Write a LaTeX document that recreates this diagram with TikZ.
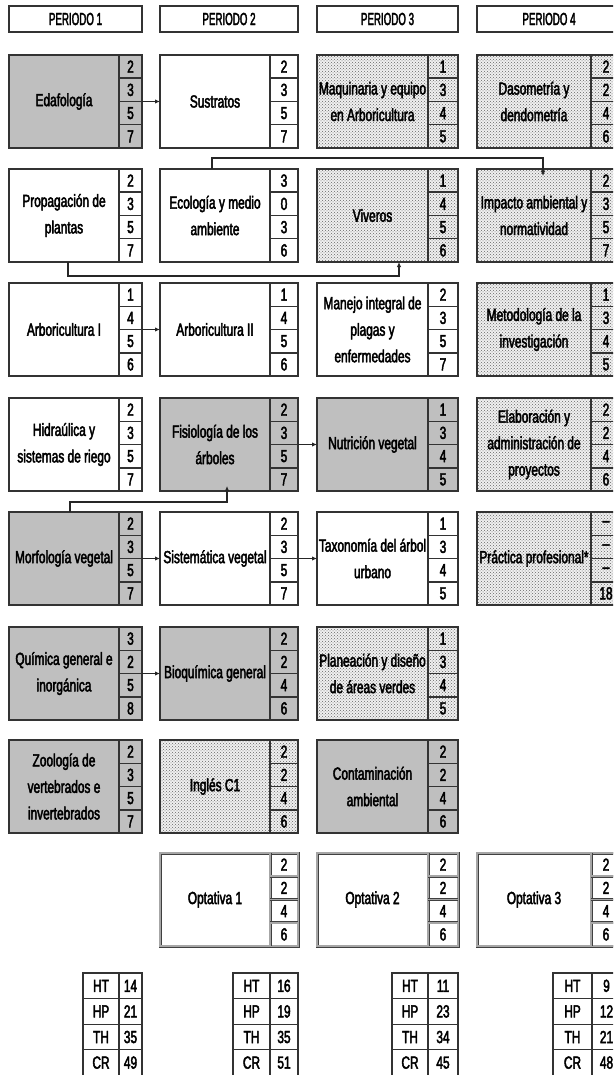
\documentclass[tikz,border=0pt]{standalone}
\usepackage{fontspec}
\setmainfont[FakeStretch=0.68,FakeBold=2.5]{Liberation Sans}
\usetikzlibrary{arrows.meta,patterns}
\tikzset{
  every node/.style={font=\fontsize{17.5}{26.5}\selectfont, inner sep=0pt, outer sep=0pt},
  cline/.style={draw=black!80, line width=1.5pt},
  whitebox/.style={cline, fill=white},
  graybox/.style={cline, fill=black!25},
  dotbox/.style={cline, preaction={fill=black!6}, pattern=crosshatch dots, pattern color=black!60},
  optbox/.style={draw=black!75, double=black!35, double distance=1.8pt, line width=0.6pt, fill=white},
  whitebox-line/.style={cline},
  graybox-line/.style={cline},
  dotbox-line/.style={cline},
  optbox-line/.style={draw=black!75, double=black!35, double distance=1.8pt, line width=0.6pt},
  tline/.style={draw=black!80, line width=1.2pt},
  arr/.style={draw=black!85, line width=1.2pt, -{Latex[length=5pt,width=4.5pt]}},
}
% #1 name #2 xleft #3 xnum #4 xright #5 ytop #6 style #7 text #8 numbers
\newcommand\course[8]{%
  \node[#6, anchor=north west, minimum width={(#4-#2)*1pt}, minimum height=93pt] (#1) at (#2,#5) {};
  \node[align=center] (#1-t) at ({(#2+#3)/2},{#5+46.5}) {#7};
  \draw[#6-line] (#3,#5) -- (#3,{#5+93});
  \foreach \k in {1,2,3} {\draw[#6-line] (#3,{#5+23.25*\k}) -- (#4,{#5+23.25*\k});}
  \foreach \n [count=\i] in {#8} {\node (#1-n\i) at ({(#3+#4)/2},{#5+23.25*\i-11.625}) {\n};}
}
% #1 name #2 xleft #3 xnum #4 xright #5 numbers
\newcommand\totals[5]{%
  \node[tline, fill=white, anchor=north west, minimum width={(#4-#2)*1pt}, minimum height=102.4pt] (#1) at (#2,973) {};
  \draw[tline] (#3,973) -- (#3,1075.4);
  \foreach \k in {1,2,3} {\draw[tline] (#2,{973+25.6*\k}) -- (#4,{973+25.6*\k});}
  \foreach \l [count=\i] in {HT,HP,TH,CR} {\node (#1-l\i) at ({(#2+#3)/2},{973+25.6*\i-12.8}) {\l};}
  \foreach \n [count=\i] in {#5} {\node (#1-n\i) at ({(#3+#4)/2},{973+25.6*\i-12.8}) {\n};}
}
\newcommand\hdr[1]{\scalebox{0.82}[1]{#1}}
\begin{document}
\begin{tikzpicture}[x=1pt,y=-1pt]
\useasboundingbox (0,0) rectangle (613,1075);
\clip (0,0) rectangle (613,1075);
\fill[white] (0,0) rectangle (613,1075);
% headers
\node[whitebox, anchor=north west, minimum width=133pt, minimum height=26pt] (h1) at (9,6) {\hdr{PERIODO 1}};
\node[whitebox, anchor=north west, minimum width=138pt, minimum height=26pt] (h2) at (160,6) {\hdr{PERIODO 2}};
\node[whitebox, anchor=north west, minimum width=141pt, minimum height=26pt] (h3) at (317,6) {\hdr{PERIODO 3}};
\node[whitebox, anchor=north west, minimum width=144pt, minimum height=26pt] (h4) at (477,6) {\hdr{PERIODO 4}};
% row 1
\course{edaf}{9}{119}{142}{55}{graybox}{Edafología}{2,3,5,7}
\course{sust}{160}{270}{298}{55}{whitebox}{Sustratos}{2,3,5,7}
\course{maq}{317}{428}{458}{55}{dotbox}{Maquinaria y equipo\\en Arboricultura}{1,3,4,5}
\course{daso}{477}{591}{621}{55}{dotbox}{Dasometría y\\dendometría}{2,2,4,6}
% row 2
\course{prop}{9}{119}{142}{169}{whitebox}{Propagación de\\plantas}{2,3,5,7}
\course{ecol}{160}{270}{298}{169}{whitebox}{Ecología y medio\\ambiente}{3,0,3,6}
\course{viv}{317}{428}{458}{169}{dotbox}{Viveros}{1,4,5,6}
\course{imp}{477}{591}{621}{169}{dotbox}{Impacto ambiental y\\normatividad}{2,3,5,7}
% row 3
\course{arbA}{9}{119}{142}{283}{whitebox}{Arboricultura I}{1,4,5,6}
\course{arbB}{160}{270}{298}{283}{whitebox}{Arboricultura II}{1,4,5,6}
\course{manejo}{317}{428}{458}{283}{whitebox}{Manejo integral de\\plagas y\\enfermedades}{2,3,5,7}
\course{metod}{477}{591}{621}{283}{dotbox}{Metodología de la\\investigación}{1,3,4,5}
% row 4
\course{hidr}{9}{119}{142}{398}{whitebox}{Hidraúlica y\\sistemas de riego}{2,3,5,7}
\course{fisio}{160}{270}{298}{398}{graybox}{Fisiología de los\\árboles}{2,3,5,7}
\course{nutr}{317}{428}{458}{398}{graybox}{Nutrición vegetal}{1,3,4,5}
\course{elab}{477}{591}{621}{398}{dotbox}{Elaboración y\\administración de\\proyectos}{2,2,4,6}
% row 5
\course{morf}{9}{119}{142}{512}{graybox}{Morfología vegetal}{2,3,5,7}
\course{sist}{160}{270}{298}{512}{whitebox}{Sistemática vegetal}{2,3,5,7}
\course{tax}{317}{428}{458}{512}{whitebox}{Taxonomía del árbol\\urbano}{1,3,4,5}
\course{prac}{477}{591}{621}{512}{dotbox}{Práctica profesional*}{--,--,--,18}
% row 6
\course{quim}{9}{119}{142}{627}{graybox}{Química general e\\inorgánica}{3,2,5,8}
\course{bioq}{160}{270}{298}{627}{graybox}{Bioquímica general}{2,2,4,6}
\course{plan}{317}{428}{458}{627}{dotbox}{Planeación y diseño\\de áreas verdes}{1,3,4,5}
% row 7
\course{zoo}{9}{119}{142}{740}{graybox}{Zoología de\\vertebrados e\\invertebrados}{2,3,5,7}
\course{ingl}{160}{270}{298}{740}{dotbox}{Inglés C1}{2,2,4,6}
\course{cont}{317}{428}{458}{740}{graybox}{Contaminación\\ambiental}{2,2,4,6}
% row 8
\course{opA}{160}{270}{298}{853}{optbox}{Optativa 1}{2,2,4,6}
\course{opB}{317}{428}{458}{853}{optbox}{Optativa 2}{2,2,4,6}
\course{opC}{477}{591}{621}{853}{optbox}{Optativa 3}{2,2,4,6}
% totals
\totals{totA}{83}{119}{142}{14,21,35,49}
\totals{totB}{233}{270}{298}{16,19,35,51}
\totals{totC}{392}{428}{458}{11,23,34,45}
\totals{totD}{553}{592}{621}{9,12,21,48}
% connectors
\draw[arr] (edaf.east) -- (sust.west);
\draw[arr] (arbA.east) -- (arbB.west);
\draw[arr] (fisio.east) -- (nutr.west);
\draw[arr] (morf.east) -- (sist.west);
\draw[arr] (sist.east) -- (tax.west);
\draw[arr] (quim.east) -- (bioq.west);
\draw[arr] ([xshift=52pt]ecol.north west) -- ++(0,-11) -| ([xshift=66pt,yshift=-7pt]imp.north west);
\draw[arr] ([xshift=59pt]prop.south west) -- ++(0,14) -| ([xshift=82pt]viv.south west);
\draw[arr] ([xshift=61pt]morf.north west) -- ++(0,-10) -| ([xshift=67pt,yshift=5pt]fisio.south west);
\end{tikzpicture}
\end{document}
